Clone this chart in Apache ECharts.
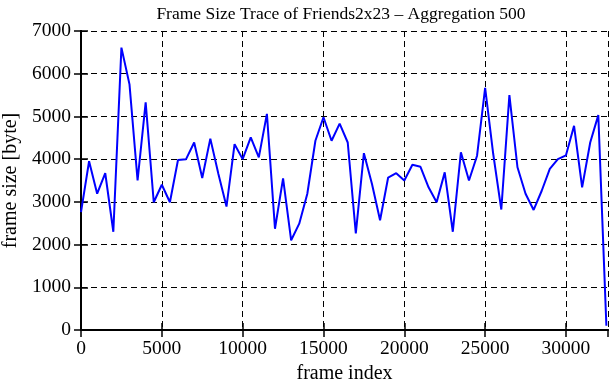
<!DOCTYPE html>
<html>
<head>
<meta charset="utf-8">
<script src="https://cdn.jsdelivr.net/npm/echarts@6/dist/echarts.min.js"></script>
<style>html,body{margin:0;padding:0;background:#fff}#c{width:611px;height:380px}</style>
</head>
<body>
<div id="c"></div>
<script>
var frameIndex = [0,500,1000,1500,2000,2500,3000,3500,4000,4500,5000,5500,6000,6500,7000,7500,8000,8500,9000,9500,10000,10500,11000,11500,12000,12500,13000,13500,14000,14500,15000,15500,16000,16500,17000,17500,18000,18500,19000,19500,20000,20500,21000,21500,22000,22500,23000,23500,24000,24500,25000,25500,26000,26500,27000,27500,28000,28500,29000,29500,30000,30500,31000,31500,32000,32500];
var frameSize = [2760,3950,3190,3670,2300,6610,5750,3500,5330,2990,3400,2990,3980,4000,4390,3560,4480,3650,2890,4350,4000,4510,4040,5060,2370,3550,2100,2490,3190,4430,4980,4430,4830,4390,2260,4140,3420,2570,3570,3670,3500,3870,3820,3340,2990,3690,2300,4160,3500,4080,5670,4120,2820,5500,3810,3190,2810,3260,3770,4000,4090,4780,3340,4390,5030,100];
var xTicks = [0,5000,10000,15000,20000,25000,30000];
var yTicks = [0,1000,2000,3000,4000,5000,6000,7000];

var FONT = 'Liberation Serif';
var chart = echarts.init(document.getElementById('c'), null, {renderer:'canvas'});
var pts = frameIndex.map(function(x,i){return [x, frameSize[i]];});
var grid = {left:81, right:3, top:31, bottom:50, containLabel:false, outerBoundsMode:'none'};
var dashed = {show:true, lineStyle:{color:'#000', type:[6,4], width:1}};
var axLine = {show:true, lineStyle:{color:'#000', width:2}};
var tick = {show:true, inside:true, length:7, lineStyle:{color:'#000', width:1.5}};
chart.setOption({
  animation:false,
  backgroundColor:'#fff',
  title:{text:'Frame Size Trace of Friends2x23 \u2013 Aggregation 500', left:336, textAlign:'center', top:0,
    textStyle:{fontFamily:FONT, fontSize:17.5, fontWeight:'normal', color:'#000'}},
  grid:grid,
  xAxis:[{type:'value', min:0, max:32600, interval:5000,
      name:'frame index', nameLocation:'middle', nameGap:30,
      nameTextStyle:{fontFamily:FONT, fontSize:20, color:'#000'},
      axisLine:axLine, axisTick:tick, splitLine:dashed,
      axisLabel:{fontFamily:FONT, fontSize:19.5, color:'#000', margin:9, showMaxLabel:false,
        formatter:function(v){return xTicks.indexOf(v)>=0 ? String(v) : '';}}},
    {type:'value', position:'top', min:0, max:32600, interval:5000,
      axisLine:axLine, axisTick:tick, splitLine:{show:false}, axisLabel:{show:false}}],
  yAxis:[{type:'value', min:0, max:7000, interval:1000,
      name:'frame size [byte]', nameLocation:'middle', nameGap:58,
      nameTextStyle:{fontFamily:FONT, fontSize:20, color:'#000'},
      axisLine:axLine, axisTick:tick, splitLine:dashed,
      axisLabel:{fontFamily:FONT, fontSize:19.5, color:'#000', margin:10,
        formatter:function(v){return yTicks.indexOf(v)>=0 ? String(v) : '';}}},
    {type:'value', position:'right', min:0, max:7000, interval:1000,
      axisLine:axLine, axisTick:tick, splitLine:{show:false}, axisLabel:{show:false}}],
  series:[{type:'line', data:pts, showSymbol:false, symbol:'none',
    lineStyle:{color:'#0000ff', width:2}, itemStyle:{color:'#0000ff'}}]
});
</script>
</body>
</html>
